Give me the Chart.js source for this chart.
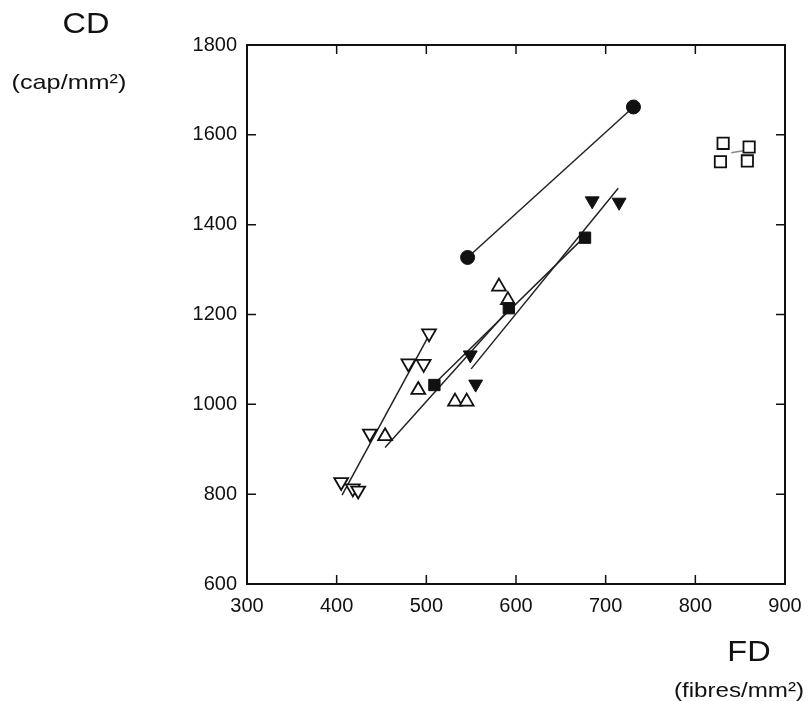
<!DOCTYPE html>
<html>
<head>
<meta charset="utf-8">
<script src="https://cdn.jsdelivr.net/npm/chart.js@4"></script>
<style>
  body { margin: 0; background: #fff; }
  canvas { display: block; }
</style>
</head>
<body>
<canvas id="chart" width="811" height="701"></canvas>
<script>
// FD (fibres/mm2) vs CD (cap/mm2)
const circleFD = [546, 731];
const circleCD = [1327, 1662];

const fSquareFD = [509, 592, 677];
const fSquareCD = [1043, 1214, 1371];
const fSquareLineFD = [509, 677];
const fSquareLineCD = [1046, 1374];

const fDownFD = [549, 555, 685, 715];
const fDownCD = [1110, 1045, 1453, 1450];
const fDownLineFD = [550, 714];
const fDownLineCD = [1079, 1481];

const oUpFD = [581, 591, 532, 545, 491, 454];
const oUpCD = [1262, 1232, 1006, 1006, 1032, 929];
const oUpLineFD = [454, 597];
const oUpLineCD = [904, 1222];

const oDownFD = [503, 480, 497, 437, 405, 418, 424];
const oDownCD = [1158, 1091, 1090, 935, 827, 813, 808];
const oDownLineFD = [406, 502];
const oDownLineCD = [798, 1150];

const oSquareFD = [831, 860, 828, 858];
const oSquareCD = [1581, 1573, 1540, 1542];
const oSquareLineFD = [840, 855];
const oSquareLineCD = [1560, 1565];

const xTicks = [300, 400, 500, 600, 700, 800, 900];
const yTicks = [600, 800, 1000, 1200, 1400, 1600, 1800];

function pts(xs, ys) {
  return xs.map((x, i) => ({ x: x, y: ys[i] }));
}

function lineSet(xs, ys, color) {
  return {
    data: pts(xs, ys),
    showLine: true,
    borderColor: color || '#222',
    borderWidth: 1.5,
    pointRadius: 0,
    order: 2
  };
}

function markSet(xs, ys, style, filled, rot) {
  return {
    data: pts(xs, ys),
    showLine: false,
    pointStyle: style,
    rotation: rot || 0,
    pointRadius: style === 'circle' ? 7 : 8,
    backgroundColor: filled ? '#111' : '#fff',
    borderColor: '#111',
    borderWidth: filled ? 1 : 1.8,
    order: 1
  };
}

const frame = {
  id: 'frame',
  afterDraw(chart) {
    const c = chart.ctx;
    const a = chart.chartArea;
    const xs = chart.scales.x, ys = chart.scales.y;
    c.save();
    c.strokeStyle = '#111';
    c.lineWidth = 2;
    c.strokeRect(a.left, a.top, a.right - a.left, a.bottom - a.top);
    c.lineWidth = 1.5;
    c.beginPath();
    xTicks.slice(1, -1).forEach(v => {
      const p = xs.getPixelForValue(v);
      c.moveTo(p, a.bottom); c.lineTo(p, a.bottom - 9);
      c.moveTo(p, a.top); c.lineTo(p, a.top + 9);
    });
    yTicks.slice(1, -1).forEach(v => {
      const p = ys.getPixelForValue(v);
      c.moveTo(a.left, p); c.lineTo(a.left + 9, p);
      c.moveTo(a.right, p); c.lineTo(a.right - 9, p);
    });
    c.stroke();

    // axis titles
    c.fillStyle = '#111';
    c.textBaseline = 'alphabetic';
    function txt(s, x, y, size, sx) {
      c.save();
      c.translate(x, y);
      c.scale(sx, 1);
      c.font = size + 'px "Liberation Sans", Arial, sans-serif';
      c.textAlign = 'center';
      c.fillText(s, 0, 0);
      c.restore();
    }
    txt('CD', 86, 33, 29, 1.12);
    txt('(cap/mm²)', 69, 89, 21, 1.2);
    txt('FD', 749, 661, 29, 1.12);
    txt('(fibres/mm²)', 739, 697, 21, 1.15);
    c.restore();
  }
};

const labelFont = { family: 'Liberation Sans', size: 20 };

new Chart(document.getElementById('chart').getContext('2d'), {
  type: 'scatter',
  data: {
    datasets: [
      lineSet(circleFD, circleCD),
      lineSet(fSquareLineFD, fSquareLineCD),
      lineSet(fDownLineFD, fDownLineCD),
      lineSet(oUpLineFD, oUpLineCD),
      lineSet(oDownLineFD, oDownLineCD),
      lineSet(oSquareLineFD, oSquareLineCD, '#888'),
      markSet(circleFD, circleCD, 'circle', true),
      markSet(fSquareFD, fSquareCD, 'rect', true),
      markSet(fDownFD, fDownCD, 'triangle', true, 180),
      markSet(oUpFD, oUpCD, 'triangle', false),
      markSet(oDownFD, oDownCD, 'triangle', false, 180),
      markSet(oSquareFD, oSquareCD, 'rect', false)
    ]
  },
  options: {
    responsive: false,
    devicePixelRatio: 1,
    animation: false,
    layout: { padding: { left: 0, top: 45, right: 26, bottom: 0 } },
    plugins: { legend: { display: false }, tooltip: { enabled: false } },
    scales: {
      x: {
        type: 'linear',
        min: 300, max: 900,
        afterBuildTicks: s => { s.ticks = xTicks.map(v => ({ value: v })); },
        afterFit: s => { s.height = 117; },
        grid: { display: false },
        border: { display: false },
        ticks: { color: '#111', font: labelFont, padding: 2, maxRotation: 0, callback: v => String(v) }
      },
      y: {
        type: 'linear',
        min: 600, max: 1800,
        afterBuildTicks: s => { s.ticks = yTicks.map(v => ({ value: v })); },
        afterFit: s => { s.width = 247; },
        grid: { display: false },
        border: { display: false },
        ticks: { color: '#111', font: labelFont, padding: 2, callback: v => String(v) }
      }
    }
  },
  plugins: [frame]
});
</script>
</body>
</html>
